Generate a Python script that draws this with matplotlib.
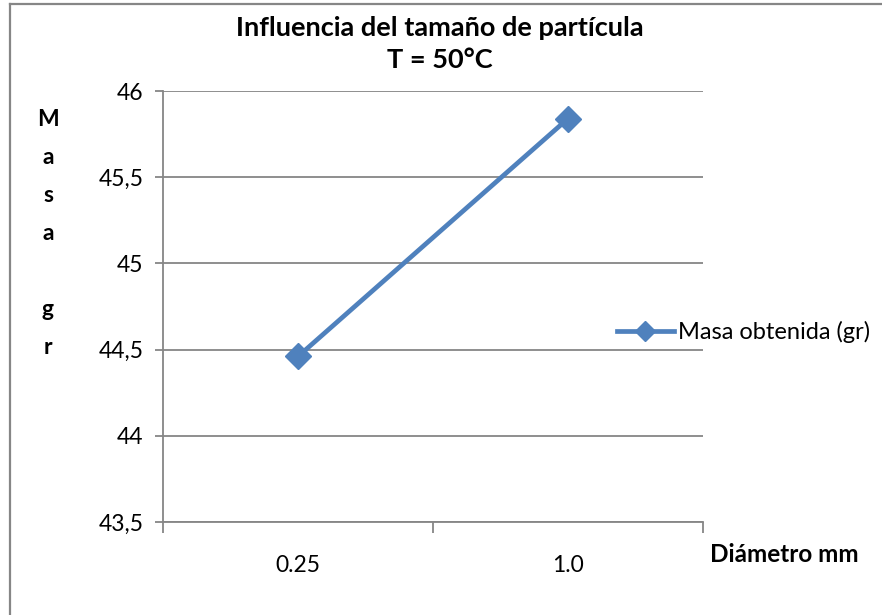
import matplotlib
matplotlib.use('Agg')
import matplotlib.pyplot as plt
from matplotlib.lines import Line2D
import matplotlib.ticker as ticker

plt.rcParams['font.family'] = ['Lato', 'DejaVu Sans']

diametros = ['0.25', '1.0']
masa = [44.46, 45.84]
y_ticks = [43.5, 44, 44.5, 45, 45.5, 46]
ylabel_letters = ['M', 'a', 's', 'a', '', 'g', 'r']

BLUE = '#4F81BD'
GRID = '#868686'

fig = plt.figure(figsize=(8.82, 6.15), dpi=100)
ax = fig.add_axes([163 / 882, 1 - 522 / 615, 540 / 882, 431 / 615])

x = list(range(len(diametros)))
ax.plot(x, masa, color=BLUE, linewidth=3.4, marker='D', markersize=13,
        markerfacecolor=BLUE, markeredgecolor=BLUE, label='Masa obtenida (gr)',
        zorder=3)

ax.set_xlim(-0.5, len(diametros) - 0.5)
ax.set_ylim(43.5, 46)
ax.set_yticks(y_ticks)
ax.yaxis.set_major_formatter(ticker.FuncFormatter(
    lambda v, p: ('%g' % v).replace('.', ',')))
ax.set_xticks(x)
ax.set_xticklabels(diametros)
ax.set_xticks([-0.5, 0.5, 1.5], minor=True)
ax.tick_params(axis='x', which='major', length=0, pad=24, labelsize=16.5)
ax.tick_params(axis='x', which='minor', length=8, width=1.3, color=GRID, direction='out')
ax.tick_params(axis='y', length=6, width=1.3, color=GRID, direction='out',
               pad=8, labelsize=16.5)

ax.grid(axis='y', color=GRID, linewidth=1.3, zorder=0)
for s in ['top', 'right']:
    ax.spines[s].set_visible(False)
for s in ['left', 'bottom']:
    ax.spines[s].set_color(GRID)
    ax.spines[s].set_linewidth(1.3)

fig.text(440 / 882, 1 - 28 / 615, 'Influencia del tamaño de partícula',
         ha='center', va='center', fontsize=19.5, fontweight='bold')
fig.text(440 / 882, 1 - 60 / 615, 'T = 50°C',
         ha='center', va='center', fontsize=19.5, fontweight='bold')

# vertical label written one letter per line
for i, ch in enumerate(ylabel_letters):
    if ch:
        fig.text(48 / 882, 1 - (119 + 38 * i) / 615, ch, ha='center', va='center',
                 fontsize=16.5, fontweight='bold')

fig.text(784 / 882, 1 - 555 / 615, 'Diámetro mm', ha='center', va='center',
         fontsize=17.5, fontweight='bold')

handles, labels = ax.get_legend_handles_labels()
fig.legend(handles, labels, loc='center left', bbox_to_anchor=(617 / 882, 1 - 332 / 615),
           frameon=False, fontsize=17, handlelength=2.4, handletextpad=0.2,
           borderaxespad=0, borderpad=0, markerscale=0.75)

# chart frame (only the left and top edges are visible)
fig.add_artist(Line2D([10 / 882, 10 / 882], [0, 1 - 4 / 615], transform=fig.transFigure,
                      color=GRID, linewidth=1.6))
fig.add_artist(Line2D([10 / 882, 1], [1 - 4 / 615, 1 - 4 / 615], transform=fig.transFigure,
                      color=GRID, linewidth=1.6))

fig.savefig('out.png', dpi=100)
